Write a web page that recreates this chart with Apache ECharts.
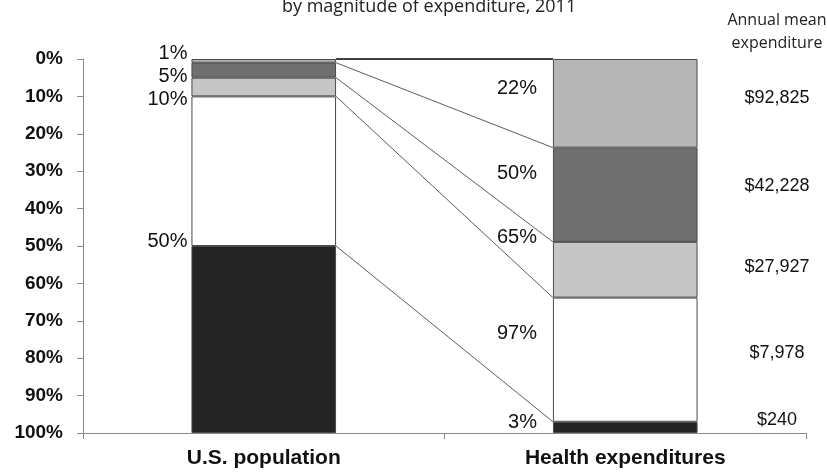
<!DOCTYPE html>
<html>
<head>
<meta charset="utf-8">
<script src="https://cdn.jsdelivr.net/npm/echarts@6/dist/echarts.min.js"></script>
<style>
  html, body { margin: 0; padding: 0; background: #fff; }
  #chart { width: 827px; height: 472px; }
</style>
</head>
<body>
<div id="chart"></div>
<script>
// ---------- data ----------
const categories = ['U.S. population', 'Health expenditures'];
const yTickLabels = ['0%', '10%', '20%', '30%', '40%', '50%', '60%', '70%', '80%', '90%', '100%'];
const groupNames = ['Top 1%', 'Top 1-5%', 'Top 5-10%', 'Top 10-50%', 'Bottom 50%'];
// share of population in each group (%)
const populationShare = [1, 4, 5, 40, 50];
// share of health expenditures in each group (%)
const expenditureShare = [23.7, 25.2, 14.9, 33.2, 3.0];
const populationLabels = ['1%', '5%', '10%', '50%'];
const expenditureLabels = ['22%', '50%', '65%', '97%', '3%'];
const meanExpenditure = ['$92,825', '$42,228', '$27,927', '$7,978', '$240'];

// ---------- styling / layout (axis units for label placement) ----------
const segmentColors = ['#b6b6b6', '#6f6f6f', '#c6c6c6', '#ffffff', '#242424'];
const popLabelAt = [-1.6, 4.8, 10.7, 48.7];
const expLabelAt = [8.0, 30.7, 47.6, 73.3, 97.1];
const meanLabelAt = [10.4, 34.0, 55.6, 78.6, 96.5];
const BAR_FRAC = 0.4;

function cumulative(arr) {
  const out = [0];
  arr.forEach(v => out.push(+(out[out.length - 1] + v).toFixed(4)));
  return out;
}
const popCum = cumulative(populationShare).slice(0, 5);   // 0,1,5,10,50
const expCum = cumulative(expenditureShare).slice(0, 5);

const chart = echarts.init(document.getElementById('chart'), null, { renderer: 'canvas' });

const barSeries = groupNames.map((name, i) => ({
  name: name,
  type: 'bar',
  stack: 'share',
  barWidth: (BAR_FRAC * 100) + '%',
  silent: true,
  data: [populationShare[i], expenditureShare[i]],
  itemStyle: { color: segmentColors[i], borderColor: '#4a4a4a', borderWidth: 1 }
}));

const connectorSeries = {
  type: 'custom',
  silent: true,
  z: 5,
  encode: { x: 0, y: 1 },
  data: popCum.map((v, i) => [0, v, expCum[i]]),
  renderItem: function (params, api) {
    const a = api.coord([0, api.value(1)]);
    const b = api.coord([1, api.value(2)]);
    const half = api.size([1, 0])[0] * BAR_FRAC / 2;
    const top = params.dataIndex === 0;
    return {
      type: 'line',
      shape: { x1: a[0] + half, y1: a[1], x2: b[0] - half, y2: b[1] },
      style: { stroke: top ? '#000' : '#333', lineWidth: top ? 1.6 : 0.8 }
    };
  }
};

function textSeries(catIndex, positions, labels, dx, side, align, font) {
  return {
    type: 'custom',
    silent: true,
    z: 6,
    clip: false,
    encode: { x: 0, y: 1 },
    data: positions.map(p => [catIndex, p]),
    renderItem: function (params, api) {
      const c = api.coord([catIndex, api.value(1)]);
      const half = api.size([1, 0])[0] * BAR_FRAC / 2;
      const x = side === 'left' ? c[0] - half - dx : c[0] + half + dx;
      return {
        type: 'text',
        x: x,
        y: c[1],
        style: {
          text: labels[params.dataIndex],
          align: align,
          verticalAlign: 'middle',
          font: font,
          fill: '#111'
        }
      };
    }
  };
}

const option = {
  animation: false,
  backgroundColor: '#ffffff',
  title: {
    text: 'by magnitude of expenditure, 2011',
    left: 277,
    top: -7,
    textStyle: { fontFamily: 'Open Sans', fontSize: 18, fontWeight: 'normal', color: '#222' }
  },
  graphic: [
    {
      type: 'text',
      x: 777,
      y: 31.5,
      style: {
        text: 'Annual mean\nexpenditure',
        font: '16px "Open Sans"',
        lineHeight: 23,
        align: 'center',
        verticalAlign: 'middle',
        fill: '#222'
      }
    }
  ],
  grid: { left: 83, right: 21, top: 59, bottom: 39, containLabel: false },
  xAxis: {
    type: 'category',
    position: 'bottom',
    data: categories,
    axisLine: { onZero: false, lineStyle: { color: '#8a8a8a', width: 1 } },
    axisTick: { show: true, alignWithLabel: false, length: 6, lineStyle: { color: '#8a8a8a' } },
    axisLabel: {
      margin: 15,
      color: '#111',
      fontFamily: 'Liberation Sans',
      fontWeight: 'bold',
      fontSize: 21
    },
    splitLine: { show: false }
  },
  yAxis: {
    type: 'value',
    inverse: true,
    min: 0,
    max: 100,
    interval: 10,
    axisLine: { show: true, onZero: false, lineStyle: { color: '#8a8a8a', width: 1 } },
    axisTick: { show: true, length: 6, lineStyle: { color: '#8a8a8a' } },
    axisLabel: {
      margin: 20,
      color: '#111',
      fontFamily: 'Liberation Sans',
      fontWeight: 'bold',
      fontSize: 19,
      formatter: v => yTickLabels[Math.round(v / 10)]
    },
    splitLine: { show: false }
  },
  series: barSeries.concat([
    connectorSeries,
    textSeries(0, popLabelAt, populationLabels, 4, 'left', 'right', '20px "Liberation Sans"'),
    textSeries(1, expLabelAt, expenditureLabels, 16, 'left', 'right', '20px "Liberation Sans"'),
    textSeries(1, meanLabelAt, meanExpenditure, 79.5, 'right', 'center', '18px "Liberation Sans"')
  ])
};

chart.setOption(option);
</script>
</body>
</html>
